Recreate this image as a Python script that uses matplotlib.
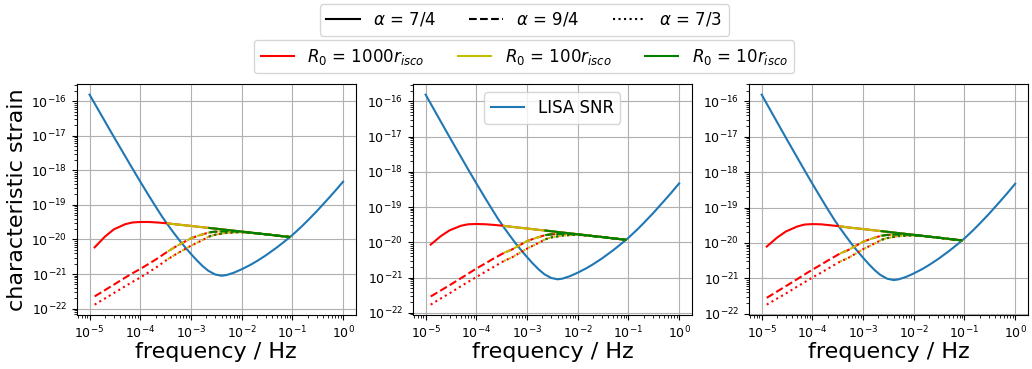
#!/usr/bin/env python

import numpy as np
import matplotlib
matplotlib.use("Agg")
import matplotlib.pyplot as plt
from matplotlib.lines import Line2D

# LISA sensitivity curve
lisa_freq = [1e-5, 2e-5, 3e-5, 5e-5, 7e-5, 1e-4, 1.5e-4, 2e-4, 2.7e-4, 3.5e-4,
             4.5e-4, 6e-4, 7.5e-4, 1e-3, 1.3e-3, 1.7e-3, 2.2e-3, 3e-3, 4e-3,
             5e-3, 7e-3, 1e-2, 1.5e-2, 2e-2, 3e-2, 5e-2, 7e-2, 1e-1, 1.5e-1,
             2e-1, 3e-1, 5e-1, 7e-1, 1.0]
lisa_hc = [1.55e-16, 2.64e-17, 9.4e-18, 2.62e-18, 1.13e-18, 4.71e-19, 1.78e-19,
           9.06e-20, 4.55e-20, 2.64e-20, 1.6e-20, 9.2e-21, 6.2e-21, 3.8e-21,
           2.5e-21, 1.69e-21, 1.24e-21, 9.7e-22, 8.9e-22, 9.3e-22, 1.09e-21,
           1.37e-21, 1.85e-21, 2.37e-21, 3.47e-21, 5.94e-21, 8.75e-21, 1.34e-20,
           2.32e-20, 3.52e-20, 6.47e-20, 1.47e-19, 2.55e-19, 4.69e-19]

# Source frequencies, low part differs per panel, high part is shared
src_freq = [1.26e-5, 2e-5, 3e-5, 5e-5, 7e-5, 1e-4, 1.5e-4, 2e-4, 3.5e-4,
            5e-4, 1e-3, 1.5e-3, 2.3e-3, 3e-3, 5e-3, 7e-3, 1e-2, 1.5e-2,
            2e-2, 3e-2, 5e-2, 8.8e-2]

# Low frequency part (up to 3.5e-4 Hz), one row per panel
solid_lo = [[5.9e-21, 1.2e-20, 1.95e-20, 2.75e-20, 3.1e-20, 3.2e-20, 3.2e-20, 3.12e-20, 2.92e-20],
            [8.6e-21, 1.5e-20, 2.2e-20, 2.95e-20, 3.25e-20, 3.3e-20, 3.25e-20, 3.15e-20, 2.93e-20],
            [7.9e-21, 1.4e-20, 2.1e-20, 2.9e-20, 3.3e-20, 3.4e-20, 3.35e-20, 3.2e-20, 2.95e-20]]
dashed_lo = [[2.25e-22, 3.4e-22, 4.9e-22, 7.8e-22, 1.05e-21, 1.4e-21, 2.0e-21, 2.6e-21, 4.5e-21],
             [2.9e-22, 4.3e-22, 6.1e-22, 9.6e-22, 1.3e-21, 1.8e-21, 2.5e-21, 3.2e-21, 5.0e-21],
             [2.8e-22, 4.2e-22, 6.0e-22, 9.4e-22, 1.28e-21, 1.75e-21, 2.45e-21, 3.15e-21, 5.0e-21]]
dotted_lo = [[1.3e-22, 1.95e-22, 2.8e-22, 4.4e-22, 5.9e-22, 7.9e-22, 1.15e-21, 1.5e-21, 2.7e-21],
             [1.7e-22, 2.55e-22, 3.6e-22, 5.7e-22, 7.6e-22, 1.03e-21, 1.45e-21, 1.85e-21, 2.95e-21],
             [1.8e-22, 2.65e-22, 3.7e-22, 5.8e-22, 7.7e-22, 1.05e-21, 1.45e-21, 1.85e-21, 2.95e-21]]

# High frequency part (from 5e-4 Hz), same in every panel
solid_hi = [2.74e-20, 2.46e-20, 2.3e-20, 2.15e-20, 2.06e-20, 1.89e-20, 1.79e-20,
            1.69e-20, 1.58e-20, 1.5e-20, 1.41e-20, 1.29e-20, 1.18e-20]
dashed_hi = [6.2e-21, 1.08e-20, 1.33e-20, 1.6e-20, 1.68e-20, 1.73e-20, 1.71e-20,
             1.66e-20, 1.57e-20, 1.5e-20, 1.41e-20, 1.29e-20, 1.18e-20]
dotted_hi = [3.7e-21, 6.6e-21, 8.8e-21, 1.22e-20, 1.37e-20, 1.55e-20, 1.6e-20,
             1.62e-20, 1.56e-20, 1.49e-20, 1.41e-20, 1.29e-20, 1.18e-20]

# alpha styles and R0 colours / start frequencies
alpha_labels = ["7/4", "9/4", "7/3"]
alpha_styles = ["-", "--", ":"]
r0_labels = ["1000", "100", "10"]
r0_colors = ["r", "y", "g"]
r0_fstart = [1.2e-5, 3.4e-4, 2.2e-3]


fig, axes = plt.subplots(1, 3, figsize=(10.32, 3.69), dpi=100)
plt.subplots_adjust(left=0.0745, right=0.996, bottom=0.146, top=0.772, wspace=0.205)

f_src = np.array(src_freq)
for i, ax in enumerate(axes):
    curves = [solid_lo[i] + solid_hi, dashed_lo[i] + dashed_hi, dotted_lo[i] + dotted_hi]

    # Detector curve
    ax.loglog(lisa_freq, lisa_hc, color="C0", lw=1.5, label="LISA SNR")

    # Source curves
    for c, f0 in zip(r0_colors, r0_fstart):
        mask = f_src >= f0
        for h, ls in zip(curves, alpha_styles):
            ax.loglog(f_src[mask], np.array(h)[mask], color=c, ls=ls, lw=1.5)

    ax.grid(True)
    ax.tick_params(labelsize=9)
    ax.set_xlabel("frequency / Hz", size=16, labelpad=0.5)

axes[0].set_ylabel("characteristic strain", size=16, labelpad=3)
axes[1].legend(loc="upper center", fontsize=12)

# Figure legends on top
h_alpha = [Line2D([], [], color="k", ls=ls, lw=1.5) for ls in alpha_styles]
fig.legend(h_alpha, [r"$\alpha$ = " + a for a in alpha_labels], ncol=3,
           loc="upper center", bbox_to_anchor=(0.508, 1.011), fontsize=12)
h_r0 = [Line2D([], [], color=c, lw=1.5) for c in r0_colors]
fig.legend(h_r0, [r"$R_0$ = " + r + r"$r_{isco}$" for r in r0_labels], ncol=3,
           loc="upper center", bbox_to_anchor=(0.508, 0.914), fontsize=12)

plt.savefig("out.png")
